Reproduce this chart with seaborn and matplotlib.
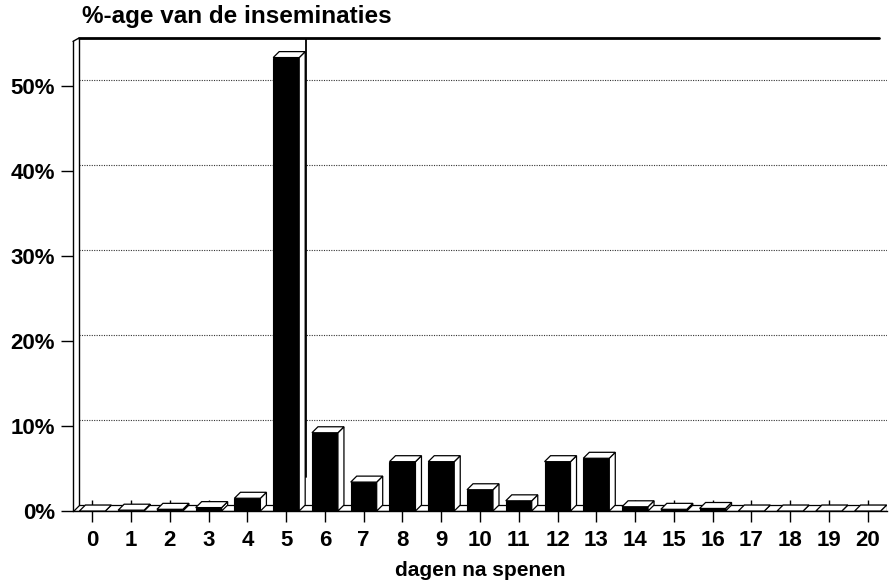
import numpy as np
import pandas as pd
import matplotlib
matplotlib.use("Agg")
import matplotlib.pyplot as plt
from matplotlib.patches import Polygon
import seaborn as sns

sns.set_theme(style="white")
plt.rcParams["font.family"] = ["Liberation Sans", "DejaVu Sans"]
plt.rcParams["text.color"] = "black"
plt.rcParams["axes.labelcolor"] = "black"
plt.rcParams["xtick.color"] = "black"
plt.rcParams["ytick.color"] = "black"

days = list(range(21))
pct = [0.0, 0.1, 0.2, 0.4, 1.5, 53.3, 9.2, 3.4, 5.8, 5.8, 2.5,
       1.2, 5.8, 6.2, 0.5, 0.2, 0.3, 0.0, 0.0, 0.0, 0.0]
y_ticks = [0, 10, 20, 30, 40, 50]
y_labels = ["0%", "10%", "20%", "30%", "40%", "50%"]

df = pd.DataFrame({"dag": days, "pct": pct})

fig = plt.figure(figsize=(8.93, 5.85), dpi=100)
ax = fig.add_axes([73 / 893, 1 - 511 / 585, (887 - 73) / 893, (511 - 38) / 585])

sns.barplot(data=df, x="dag", y="pct", color="black", width=0.67,
            edgecolor="black", linewidth=0.8, saturation=1, ax=ax, zorder=3)

# 3d depth (data units)
dx, dy = 0.155, 0.7
ax.set_xlim(-0.5, 20.5)
ax.set_ylim(0, 55.6)

# grid on the back wall
for t in y_ticks[1:]:
    ax.plot([-0.5 + dx, 20.5], [t + dy, t + dy], color="#333333", lw=0.8,
            ls=(0, (1, 1.2)), zorder=1)

# floor
floor = Polygon([(-0.5, 0), (20.5, 0), (20.5, dy), (-0.5 + dx, dy)],
                closed=True, facecolor="white", edgecolor="black", lw=0.9, zorder=2)
ax.add_patch(floor)

# left wall
ax.plot([-0.5, -0.5], [0, 55.2], color="black", lw=1.0, zorder=2, clip_on=False)
ax.plot([-0.5 + dx, -0.5 + dx], [dy, 55.6], color="black", lw=1.0, zorder=2, clip_on=False)
ax.plot([-0.5, -0.5 + dx], [55.2, 55.6], color="black", lw=1.0, zorder=2, clip_on=False)
# top edge
ax.plot([-0.5 + dx, 20.3], [55.6, 55.6], color="black", lw=2.0, zorder=2, clip_on=False)

for p in ax.patches[:len(days)]:
    x0, w, h = p.get_x(), p.get_width(), p.get_height()
    top = Polygon([(x0, h), (x0 + w, h), (x0 + w + dx, h + dy), (x0 + dx, h + dy)],
                  closed=True, facecolor="white", edgecolor="black", lw=0.9, zorder=4)
    side = Polygon([(x0 + w, 0), (x0 + w + dx, dy), (x0 + w + dx, h + dy), (x0 + w, h)],
                   closed=True, facecolor="white", edgecolor="black", lw=0.9, zorder=4)
    ax.add_patch(side)
    ax.add_patch(top)

# scanner line next to the tall bar
p5 = ax.patches[5]
ax.plot([p5.get_x() + p5.get_width() + dx + 0.03] * 2, [4.0, 55.6],
        color="black", lw=1.3, zorder=5)

for s in ["top", "right", "left"]:
    ax.spines[s].set_visible(False)
ax.spines["bottom"].set_color("black")
ax.spines["bottom"].set_linewidth(1.0)

ax.set_yticks(y_ticks)
ax.set_yticklabels(y_labels, fontsize=16, fontweight="bold")
ax.set_xticks(days)
ax.set_xticklabels([str(d) for d in days], fontsize=16, fontweight="bold")
ax.tick_params(axis="y", direction="out", length=9, width=1.0, color="black",
               labelcolor="black", left=True, pad=4)
ax.tick_params(axis="x", direction="inout", length=16, width=1.0, color="black",
               labelcolor="black", bottom=True, pad=6)
ax.set_xlabel("dagen na spenen", fontsize=15, fontweight="bold", labelpad=7,
              color="black")
ax.set_ylabel("")
fig.text(82 / 893, 1 - 17 / 585, "%-age van de inseminaties", fontsize=17.5,
         fontweight="bold", ha="left", va="center", color="black")

fig.savefig("out.png", dpi=100, facecolor="white")
